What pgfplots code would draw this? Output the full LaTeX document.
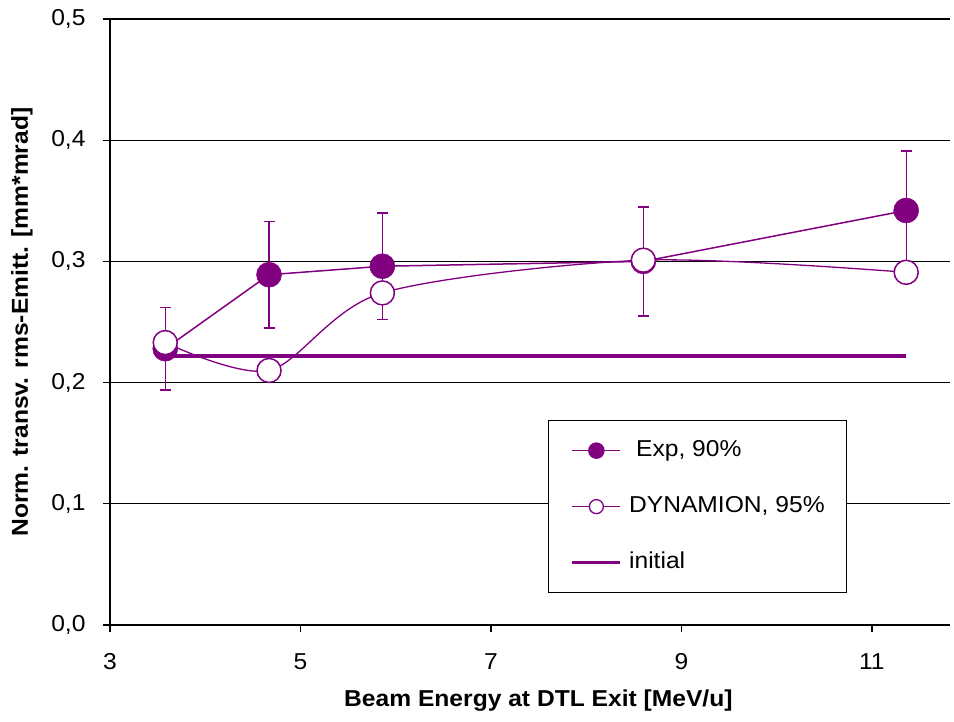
\documentclass[border=0pt]{standalone}
\usepackage{fontspec}
\setmainfont{Liberation Sans}[FakeStretch=1.07]
\usepackage{pgfplots}
\pgfplotsset{compat=1.18}
\definecolor{dpurple}{HTML}{800080}
\begin{document}
\begin{tikzpicture}
\path (-110pt,-97pt) rectangle (844pt,625pt);
\begin{axis}[at={(0pt,0pt)}, anchor=south west, scale only axis,
  width=840pt, height=606pt,
  xmin=3, xmax=11.82, ymin=0, ymax=0.5,
  axis x line*=bottom, axis y line*=left,
  axis line style={line width=1.3pt, -, black},
  xtick={3,5,7,9,11}, ytick={0,0.1,0.2,0.3,0.4,0.5},
  ymajorgrids, major grid style={line width=1.3pt, black},
  tick style={line width=1.3pt, black},
  tick align=outside, major tick length=7pt,
  minor tick num=0,
  /pgf/number format/assume math mode=true,
  ticklabel style={font=\fontsize{23}{27}\selectfont},
  yticklabel style={/pgf/number format/.cd, fixed, fixed zerofill, precision=1, use comma, /tikz/.cd, xshift=-14pt},
  xticklabel style={yshift=-18pt},
  xlabel={Beam Energy at DTL Exit [MeV/u]},
  ylabel={Norm. transv. rms-Emitt. [mm*mrad]},
  label style={font=\bfseries\fontsize{23}{27}\selectfont},
  xlabel style={at={(axis description cs:0.51,-0.124)}, anchor=center},
  ylabel style={at={(axis description cs:-0.1048,0.5)}, anchor=center, rotate=0},
  legend style={at={(0.5214,0.3383)}, anchor=north west, draw=black, line width=1.3pt,
    font=\fontsize{23}{27}\selectfont, row sep=36pt, column sep=7pt,
    inner xsep=22pt, inner ysep=20pt,
    nodes={inner sep=0pt, text height=16pt, text depth=4pt}},
  legend cell align=left,
]
% Exp, 90%
\addplot[dpurple, line width=1.5pt, mark=*, mark size=12.5pt, mark options={fill=dpurple, draw=dpurple, line width=0.5pt},
  legend image code/.code={\draw[dpurple, line width=1.3pt] (0pt,0pt) -- (48pt,0pt); \fill[dpurple] (24pt,0pt) circle (7.5pt);},
  error bars/.cd, y dir=both, y explicit,
  error bar style={line width=1.3pt, dpurple},
  error mark options={rotate=90, mark size=5.5pt, line width=1.3pt, dpurple}]
  coordinates {
  (3.58,0.228) +- (0,0.034)
  (4.67,0.289) +- (0,0.044)
  (5.86,0.296) +- (0,0.044)
  (8.60,0.300) +- (0,0.045)
  (11.36,0.342) +- (0,0.049)
  };
\addlegendentry{\hspace{7pt}Exp, 90\%}
% DYNAMION, 95%
\addplot[dpurple, line width=1.3pt, smooth, mark=*, mark size=12pt, mark options={fill=white, draw=dpurple, line width=1.5pt},
  legend image code/.code={\draw[dpurple, line width=1.3pt] (0pt,0pt) -- (48pt,0pt); \filldraw[fill=white, draw=dpurple, line width=1.3pt] (24pt,0pt) circle (7pt);}]
  coordinates {
  (3.58,0.233)
  (4.67,0.210)
  (5.86,0.274)
  (8.60,0.301)
  (11.36,0.291)
  };
\addlegendentry{DYNAMION, 95\%}
% initial
\addplot[dpurple, line width=3.5pt,
  legend image code/.code={\draw[dpurple, line width=3.5pt] (0pt,0pt) -- (48pt,0pt);}]
  coordinates {(3.58,0.222) (11.36,0.222)};
\addlegendentry{initial}
\end{axis}
\end{tikzpicture}
\end{document}
